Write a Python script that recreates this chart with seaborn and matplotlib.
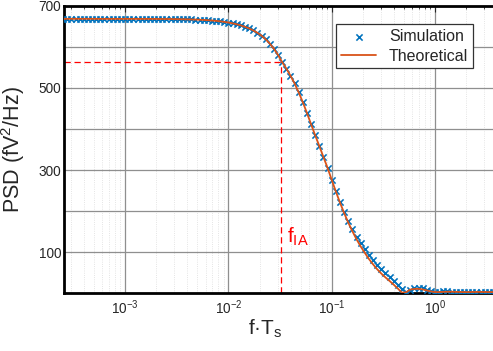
import numpy as np
import pandas as pd
import matplotlib
matplotlib.use("Agg")
import matplotlib.pyplot as plt
import seaborn as sns
from matplotlib.ticker import LogLocator, NullFormatter, FixedLocator, FixedFormatter

# ---- data ----
log_f = np.round(np.arange(-3.60, 0.601, 0.04), 2)   # normalised frequency grid, log10(f*Ts)

theory_psd = [
    668.0, 668.0, 668.0, 668.0, 668.0, 668.0, 668.0, 668.0, 667.9, 667.9,
    667.9, 667.9, 667.9, 667.9, 667.9, 667.9, 667.9, 667.9, 667.8, 667.8,
    667.8, 667.8, 667.8, 667.7, 667.6, 667.6, 667.5, 667.3, 667.2, 667.0,
    666.8, 666.5, 666.2, 665.8, 665.3, 664.7, 663.9, 663.1, 662.0, 660.6,
    659.0, 657.1, 654.8, 652.0, 648.6, 644.7, 639.8, 634.1, 627.1, 618.3,
    607.8, 595.1, 580.2, 562.7, 547.1, 529.9, 510.8, 489.0, 465.0, 438.8,
    411.4, 384.3, 358.2, 331.3, 304.9, 275.8, 247.6, 220.6, 195.3, 172.0,
    150.9, 131.4, 114.1, 98.5, 83.5, 70.5, 58.6, 48.0, 38.7, 30.0,
    21.0, 11.5, 1.5, 2.5, 9.0, 10.8, 10.8, 9.5, 7.0, 4.5,
    3.0, 3.0, 3.5, 3.8, 3.8, 3.5, 3.2, 3.0, 3.0, 3.2,
    3.3, 3.3, 3.2, 3.0, 3.0, 3.1,
]

sim_psd = [
    668.0, 668.0, 668.0, 668.0, 668.0, 668.0, 668.0, 668.0, 667.9, 667.9,
    667.9, 667.9, 667.9, 667.9, 667.9, 667.9, 667.9, 667.9, 667.8, 667.8,
    667.8, 667.8, 667.8, 667.7, 667.6, 667.6, 667.5, 667.3, 667.2, 667.0,
    666.8, 666.5, 666.2, 665.8, 665.3, 664.7, 663.9, 663.1, 662.0, 660.6,
    659.0, 657.1, 654.8, 652.0, 648.6, 644.7, 639.8, 634.1, 627.1, 618.3,
    607.8, 595.1, 580.2, 562.7, 547.1, 529.9, 510.8, 489.0, 465.0, 438.8,
    411.4, 384.3, 358.2, 331.3, 304.9, 276.5, 249.0, 222.0, 198.0, 176.0,
    156.0, 138.0, 122.0, 107.0, 93.0, 81.0, 70.0, 60.0, 50.0, 40.0,
    30.0, 21.0, 10.0, 3.0, 9.0, 13.0, 14.0, 12.0, 8.0, 5.0,
    3.5, 4.0, 4.5, 4.5, 4.2, 4.0, 3.8, 3.8, 4.0, 4.2,
    4.3, 4.1, 4.0, 3.9, 3.8, 4.0,
]

f_ia = 0.0325          # f_IA marker position
psd_at_f_ia = 564.0    # PSD level at f_IA
y_tick_values = [100, 200, 300, 400, 500, 600, 700]
y_tick_labels = ["100", "", "300", "", "500", "", "700"]

freq = 10.0 ** log_f
df_sim = pd.DataFrame({"f": freq, "psd": sim_psd})
df_th = pd.DataFrame({"f": freq, "psd": theory_psd})

# ---- style ----
sns.set_theme(style="white")
plt.rcParams["font.family"] = ["Liberation Sans", "DejaVu Sans"]
plt.rcParams["mathtext.fontset"] = "custom"
plt.rcParams["mathtext.rm"] = "Liberation Sans"
plt.rcParams["mathtext.it"] = "Liberation Sans:italic"
plt.rcParams["mathtext.bf"] = "Liberation Sans:bold"

W, H = 493, 351
fig = plt.figure(figsize=(W / 100, H / 100), dpi=100)
ax_l, ax_r, ax_t, ax_b = 64, 493, 5.7, 293.3
ax = fig.add_axes([ax_l / W, 1 - ax_b / H, (ax_r - ax_l) / W, (ax_b - ax_t) / H])

blue = "#0072BD"
orange = "#D95319"

sns.scatterplot(data=df_sim, x="f", y="psd", ax=ax, marker="x", s=20,
                color=blue, linewidth=1.15, label="Simulation", zorder=3)
sns.lineplot(data=df_th, x="f", y="psd", ax=ax, color=orange, lw=1.3,
             label="Theoretical", zorder=4, sort=False)

ax.set_xscale("log")
ax.set_xlim(10 ** -3.592, 10 ** 0.561)
ax.set_ylim(0, 700)

# f_IA guide lines
ax.plot([f_ia, f_ia], [0, psd_at_f_ia], color="red", lw=0.9, ls=(0, (5, 3)), zorder=2)
ax.plot([10 ** -3.592, f_ia], [psd_at_f_ia, psd_at_f_ia], color="red", lw=0.9,
        ls=(0, (5, 3)), zorder=2)
ax.text(0.0366, 122, "f$_\\mathregular{IA}$", color="red", fontsize=15,
        ha="left", va="baseline")

# ticks & grid
ax.xaxis.set_major_locator(LogLocator(base=10, numticks=20))
ax.xaxis.set_minor_locator(LogLocator(base=10, subs=np.arange(2, 10), numticks=50))
ax.xaxis.set_minor_formatter(NullFormatter())
ax.yaxis.set_major_locator(FixedLocator(y_tick_values))
ax.yaxis.set_major_formatter(FixedFormatter(y_tick_labels))
ax.tick_params(axis="both", which="major", direction="in", length=4, width=0.8,
               labelsize=9.8, pad=2, colors="#262626", top=True)
ax.tick_params(axis="both", which="minor", direction="in", length=2.5, width=0.6,
               top=True)
ax.tick_params(axis="x", which="major", pad=4)

ax.grid(which="major", color="#8f8f8f", lw=0.9, ls="-")
ax.grid(which="minor", axis="x", color="#dcdcdc", lw=0.6, ls=":")
ax.set_axisbelow(True)

for side in ["left", "top", "bottom"]:
    ax.spines[side].set_color("black")
    ax.spines[side].set_linewidth(2)
ax.spines["right"].set_visible(False)

ax.set_xlabel("f·T$_\\mathregular{s}$", fontsize=15, color="#262626")
ax.xaxis.set_label_coords((265 - ax_l) / (ax_r - ax_l), (ax_b - 318) / (ax_b - ax_t))
ax.xaxis.label.set_va("top")
ax.set_ylabel("PSD (fV$^\\mathregular{2}$/Hz)", fontsize=15.5, color="#262626", labelpad=8)

leg = ax.legend(loc="upper right",
                bbox_to_anchor=((473 - ax_l) / (ax_r - ax_l), (ax_b - 24) / (ax_b - ax_t)),
                frameon=True, fancybox=False, fontsize=11.5, handlelength=2.2,
                borderpad=0.3, labelspacing=0.3, handletextpad=0.8,
                borderaxespad=0)
leg.get_frame().set_edgecolor("#333333")
leg.get_frame().set_linewidth(0.9)
leg.get_frame().set_alpha(1)

fig.savefig("out.png", dpi=100)
